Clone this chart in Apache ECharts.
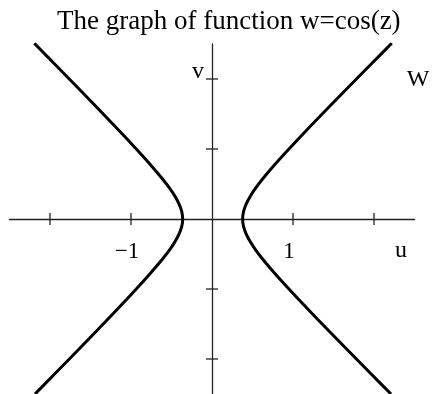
<!DOCTYPE html>
<html>
<head>
<meta charset="utf-8">
<title>w = cos(z)</title>
<script src="https://cdn.jsdelivr.net/npm/echarts@6/dist/echarts.min.js"></script>
<style>
  html, body { margin: 0; padding: 0; background: #fff; }
  #chart { width: 433px; height: 394px; }
</style>
</head>
<body>
<div id="chart"></div>
<script>
// Image of the line x = const under w = cos(z): two branches of a hyperbola in the (u, v) plane.
const rightBranch = [
  [2.219, 2.51], [1.953, 2.20], [1.698, 1.90], [1.444, 1.60], [1.235, 1.35],
  [1.071, 1.15], [0.950, 1.00], [0.831, 0.85], [0.717, 0.70], [0.617, 0.56],
  [0.538, 0.44], [0.475, 0.33], [0.424, 0.22], [0.390, 0.11], [0.378, 0],
  [0.390, -0.11], [0.424, -0.22], [0.475, -0.33], [0.538, -0.44], [0.617, -0.56],
  [0.717, -0.70], [0.831, -0.85], [0.950, -1.00], [1.071, -1.15], [1.235, -1.35],
  [1.444, -1.60], [1.698, -1.90], [1.953, -2.20], [2.210, -2.50]
];
const leftBranch = [
  [-2.194, 2.51], [-1.931, 2.20], [-1.677, 1.90], [-1.426, 1.60], [-1.219, 1.35],
  [-1.055, 1.15], [-0.935, 1.00], [-0.817, 0.85], [-0.704, 0.70], [-0.603, 0.56],
  [-0.524, 0.44], [-0.460, 0.33], [-0.409, 0.22], [-0.374, 0.11], [-0.362, 0],
  [-0.374, -0.11], [-0.409, -0.22], [-0.460, -0.33], [-0.524, -0.44], [-0.603, -0.56],
  [-0.704, -0.70], [-0.817, -0.85], [-0.935, -1.00], [-1.055, -1.15], [-1.219, -1.35],
  [-1.426, -1.60], [-1.677, -1.90], [-1.931, -2.20], [-2.185, -2.50]
];

// Tick positions on each axis and the labelled ones
const uTicks = [-2, -1, 1, 2];
const vTicks = [-2, -1, 1, 2];
const uLabelValues = [-1, 1];
const uLabelTexts = ['\u22121', '1'];

const serif = '"Liberation Serif", "DejaVu Serif", serif';

const chart = echarts.init(document.getElementById('chart'), null, { renderer: 'canvas' });

const axisLine = { show: true, onZero: true, lineStyle: { color: '#222', width: 1.3 } };

const branchStyle = {
  type: 'line', smooth: 0.3, symbol: 'none', clip: true,
  lineStyle: { color: '#000', width: 3 }, z: 3
};

chart.setOption({
  animation: false,
  backgroundColor: '#fff',
  title: {
    text: 'The graph of function w=cos(z)',
    left: 52,
    top: 3,
    textStyle: { fontFamily: serif, fontSize: 27, fontWeight: 'normal', color: '#000' }
  },
  grid: { left: 9.5, top: 44, width: 405, height: 350, containLabel: false },
  xAxis: {
    type: 'value', min: -2.5, max: 2.5,
    axisLine: axisLine, axisTick: { show: false }, axisLabel: { show: false },
    splitLine: { show: false }
  },
  yAxis: {
    type: 'value', min: -2.5, max: 2.5,
    axisLine: axisLine, axisTick: { show: false }, axisLabel: { show: false },
    splitLine: { show: false }
  },
  graphic: [
    { type: 'text', style: { text: 'v', x: 198, y: 72, align: 'center', verticalAlign: 'middle',
      font: '24px ' + serif, fill: '#000' } },
    { type: 'text', style: { text: 'W', x: 418, y: 80, align: 'center', verticalAlign: 'middle',
      font: '24px ' + serif, fill: '#000' } },
    { type: 'text', style: { text: 'u', x: 401, y: 251, align: 'center', verticalAlign: 'middle',
      font: '24px ' + serif, fill: '#000' } }
  ],
  series: [
    Object.assign({ data: rightBranch }, branchStyle),
    Object.assign({ data: leftBranch }, branchStyle),
    {
      // tick marks crossing the u axis
      type: 'scatter', data: uTicks.map(u => [u, 0]), symbol: 'rect', symbolSize: [1.3, 12],
      itemStyle: { color: '#222', opacity: 1 }, silent: true, z: 2
    },
    {
      // tick marks crossing the v axis
      type: 'scatter', data: vTicks.map(v => [0, v]), symbol: 'rect', symbolSize: [12, 1.3],
      itemStyle: { color: '#222', opacity: 1 }, silent: true, z: 2
    },
    {
      // numeric labels under the u axis
      type: 'scatter', data: uLabelValues.map((u, i) => ({ value: [u, 0], name: uLabelTexts[i] })),
      symbolSize: 0, silent: true, itemStyle: { opacity: 1 },
      label: {
        show: true, position: 'inside', offset: [-4, 33], formatter: p => p.name,
        fontFamily: serif, fontSize: 23, color: '#000', textBorderWidth: 0
      }
    }
  ]
});
</script>
</body>
</html>
